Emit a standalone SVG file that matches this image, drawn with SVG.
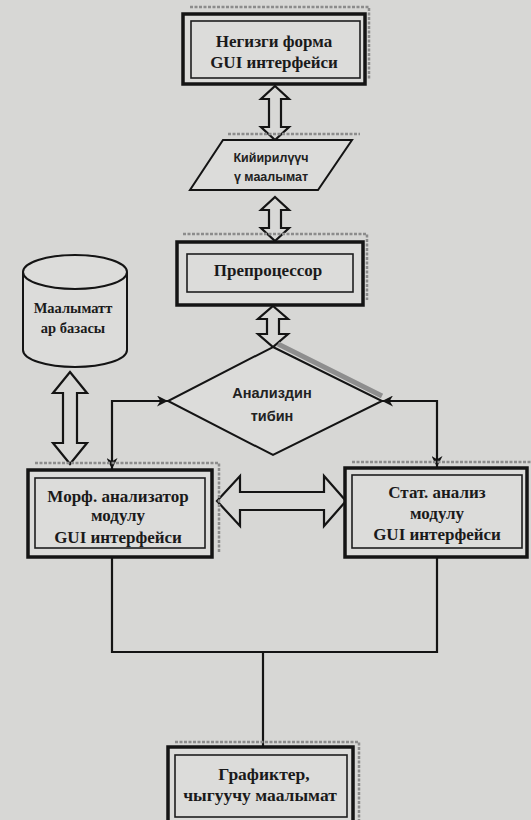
<svg xmlns="http://www.w3.org/2000/svg" width="531" height="820" viewBox="0 0 531 820">
  <defs>
    <style>
      .outer { fill: #dcdcda; stroke: #141414; stroke-width: 3.5; }
      .inner { fill: none; stroke: #1e1e1e; stroke-width: 1.6; }
      .shape { fill: #dcdcda; stroke: #141414; stroke-width: 2; }
      .dbl { fill: #d8d8d6; stroke: #141414; stroke-width: 2.2; stroke-linejoin: miter; }
      .shadow { fill: none; stroke: #8c8c8c; stroke-width: 2.5; stroke-dasharray: 3 1.5; }
      .wire { fill: none; stroke: #141414; stroke-width: 2.2; }
      .serif { font-family: "Liberation Serif", "Times New Roman", serif; font-weight: bold; fill: #1a1a1a; text-anchor: middle; }
      .sans { font-family: "Liberation Sans", Arial, sans-serif; font-weight: bold; fill: #222; text-anchor: middle; }
    </style>
    <marker id="tip" viewBox="0 0 10 10" refX="10" refY="5" markerWidth="5" markerHeight="5" markerUnits="strokeWidth" orient="auto-start-reverse">
      <path d="M0,0 L10,5 L0,10 L3,5 Z" fill="#141414"/>
    </marker>
  </defs>

  <!-- page -->
  <rect x="0" y="0" width="531" height="820" fill="#d7d7d5"/>

  <!-- block arrows and connectors -->
  <g id="connectors">
    <polygon class="dbl" points="275,86 289,99 281,99 281,127 289,127 275,140 261,127 269,127 269,99 261,99"/>
    <polygon class="dbl" points="275,197 289,210 281,210 281,228 289,228 275,241 261,228 269,228 269,210 261,210"/>
    <polygon class="dbl" points="273,306 288,319 279,319 279,334 288,334 273,347 258,334 267,334 267,319 258,319"/>
    <polygon class="dbl" points="70,372 87,393 77,393 77,443 87,443 70,464 53,443 63,443 63,393 53,393"/>
    <polygon class="dbl" points="217,501 240,476 240,492 324,492 324,476 346,501 324,526 324,510 240,510 240,526"/>

    <path class="wire" d="M168,401 H112 V469" marker-start="url(#tip)" marker-end="url(#tip)"/>
    <path class="wire" d="M382,401 H437 V467" marker-start="url(#tip)" marker-end="url(#tip)"/>
    <path class="wire" d="M112,557 V652 H437 V557"/>
    <path class="wire" d="M263,652 V747"/>
  </g>

  <!-- main form -->
  <g id="main-form">
    <path class="shadow" d="M190,7 H369 V80"/>
    <rect class="outer" x="183" y="14" width="182" height="70"/>
    <rect class="inner" x="191" y="21" width="169" height="57"/>
    <text class="serif" x="274" y="47" font-size="17">Негизги форма</text>
    <text class="serif" x="274" y="68" font-size="17">GUI интерфейси</text>
  </g>

  <!-- input data -->
  <g id="input-data">
    <path class="shadow" d="M228,134 H360"/>
    <polygon class="shape" points="223,140 352,140 318,190 190,190"/>
    <text class="sans" x="271" y="162" font-size="12.5">Кийирилүүч</text>
    <text class="sans" x="271" y="181" font-size="12.5">ү маалымат</text>
  </g>

  <!-- preprocessor -->
  <g id="preprocessor">
    <path class="shadow" d="M183,234 H367 V300"/>
    <rect class="outer" x="177" y="242" width="186" height="63"/>
    <rect class="inner" x="187" y="254" width="166" height="38"/>
    <text class="serif" x="268" y="276" font-size="17">Препроцессор</text>
  </g>

  <!-- database -->
  <g id="database">
    <path class="shape" d="M23,272 V350 A52,17 0 0 0 127,350 V272"/>
    <ellipse class="shape" cx="75" cy="272" rx="52" ry="17"/>
    <text class="serif" x="73" y="313" font-size="14.5">Маалыматт</text>
    <text class="serif" x="73" y="333" font-size="14.5">ар базасы</text>
  </g>

  <!-- analysis type -->
  <g id="analysis-type">
    <path d="M278,344 L382,396" fill="none" stroke="#8e8e8e" stroke-width="5"/>
    <polygon class="shape" points="273,347 382,401 273,455 168,401"/>
    <text class="sans" x="272" y="398" font-size="14.5">Анализдин</text>
    <text class="sans" x="272" y="421" font-size="14.5">тибин</text>
  </g>

  <!-- morphological analyzer -->
  <g id="morph-module">
    <path class="shadow" d="M35,463 H219 V552"/>
    <rect class="outer" x="28" y="470" width="184" height="87"/>
    <rect class="inner" x="35" y="478" width="170" height="70"/>
    <text class="serif" x="118" y="502" font-size="17">Морф. анализатор</text>
    <text class="serif" x="118" y="521" font-size="17">модулу</text>
    <text class="serif" x="118" y="543" font-size="17">GUI интерфейси</text>
  </g>

  <!-- statistical analysis -->
  <g id="stat-module">
    <path class="shadow" d="M352,462 H531"/>
    <rect class="outer" x="345" y="468" width="182" height="89"/>
    <rect class="inner" x="352" y="475" width="170" height="73"/>
    <text class="serif" x="437" y="498" font-size="17">Стат. анализ</text>
    <text class="serif" x="437" y="519" font-size="17">модулу</text>
    <text class="serif" x="437" y="540" font-size="17">GUI интерфейси</text>
  </g>

  <!-- output -->
  <g id="output">
    <path class="shadow" d="M175,742 H359 V820"/>
    <rect class="outer" x="168" y="747" width="185" height="80"/>
    <rect class="inner" x="175" y="755" width="172" height="62"/>
    <text class="serif" x="264" y="780" font-size="17.5">Графиктер,</text>
    <text class="serif" x="260" y="801" font-size="17.5">чыгуучу маалымат</text>
  </g>
</svg>
